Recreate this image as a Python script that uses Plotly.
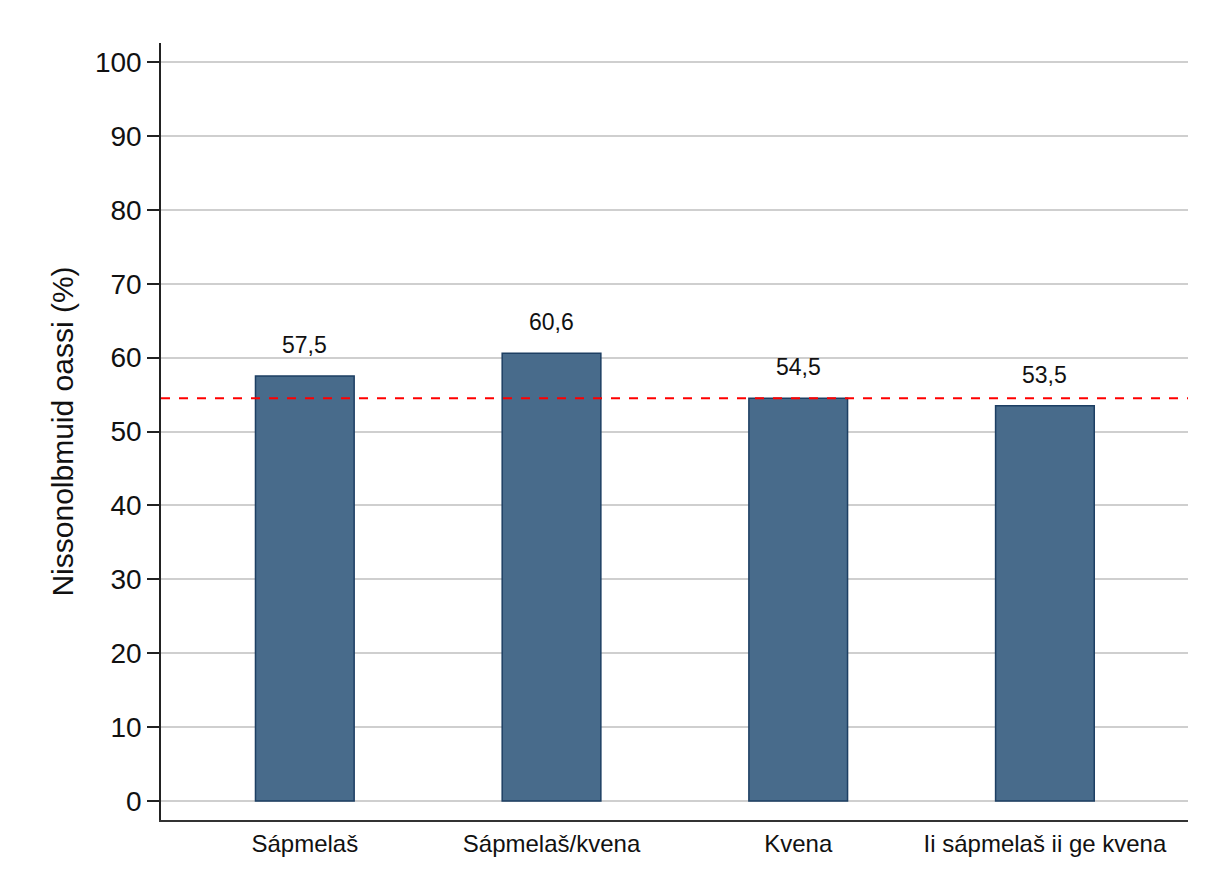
import plotly.graph_objects as go

categories = ["Sápmelaš", "Sápmelaš/kvena", "Kvena", "Ii sápmelaš ii ge kvena"]
values = [57.5, 60.6, 54.5, 53.5]
labels = ["57,5", "60,6", "54,5", "53,5"]
average = 54.5
y_ticks = [0, 10, 20, 30, 40, 50, 60, 70, 80, 90, 100]

FONT = "Liberation Sans, Arial, sans-serif"

fig = go.Figure()
fig.add_trace(go.Bar(
    x=categories, y=values, width=0.4,
    marker=dict(color="#486b8b", line=dict(color="#1d3f63", width=1.5)),
    showlegend=False, hoverinfo="skip",
))

for c, v, t in zip(categories, values, labels):
    fig.add_annotation(x=c, y=v, text=t, showarrow=False, yanchor="bottom",
                       yshift=16, font=dict(family=FONT, size=23, color="#111"))

fig.add_shape(type="line", xref="paper", x0=0, x1=1, yref="y", y0=average, y1=average,
              line=dict(color="#ff0000", width=2, dash="dash"))

fig.update_layout(
    width=1201, height=871,
    margin=dict(l=153, r=21, t=35, b=59),
    paper_bgcolor="white", plot_bgcolor="white",
    font=dict(family=FONT, color="#111"),
    bargap=0.6,
)
fig.update_xaxes(
    type="category", range=[-0.583, 3.58],
    showline=True, linecolor="#333", linewidth=1.5,
    ticks="", showgrid=False, ticklabelstandoff=1,
    tickfont=dict(family=FONT, size=24, color="#111"),
)
fig.update_yaxes(
    range=[-2.57, 102.57], tickvals=y_ticks,
    showline=True, linecolor="#222", linewidth=1.5,
    ticks="outside", ticklen=12, tickwidth=1.5, tickcolor="#222",
    showgrid=True, gridcolor="#cfcfcf", gridwidth=1.5, zeroline=False,
    tickfont=dict(family=FONT, size=28, color="#111"),
    title=dict(text="Nissonolbmuid oassi (%)", font=dict(family=FONT, size=30, color="#111"), standoff=12),
)

fig.write_html("out.html")
